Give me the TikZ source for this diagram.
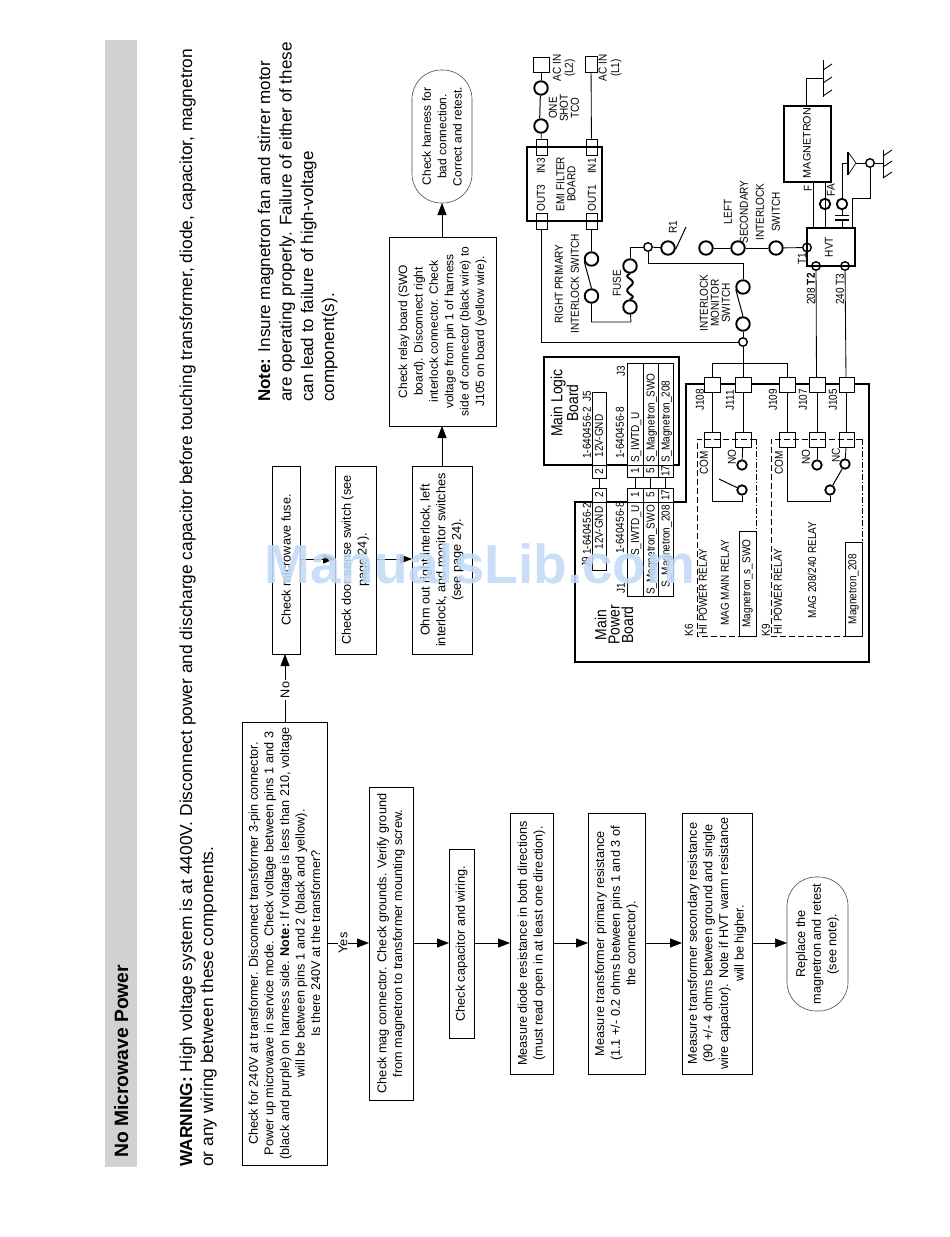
\documentclass[tikz,border=0pt]{standalone}
\usepackage{fontspec}
\setmainfont{Liberation Sans}
\newfontfamily\narrowf[FakeStretch=0.87]{Liberation Sans}
\usetikzlibrary{arrows.meta,calc}
\definecolor{bar}{HTML}{D0D2D2}
\definecolor{wm}{HTML}{C4DAF6}
\newcommand{\flowfont}{\fontsize{12.7}{15.6}\selectfont}
\newcommand{\schfont}[1]{\narrowf\fontsize{#1}{11}\selectfont}
\tikzset{
  flowbox/.style={draw,rotate=90,align=center,inner sep=0pt,line width=0.9pt,font=\flowfont},
  termbox/.style={draw=black!70,rotate=90,align=center,inner sep=0pt,line width=0.6pt,rounded corners=29pt,font=\flowfont},
  flow/.style={line width=0.9pt,-{Triangle[length=12pt,width=9pt]}},
  txt/.style={rotate=90,anchor=base west,inner sep=0pt,align=left},
  term/.style={circle,draw,line width=1.9pt,inner sep=0pt,minimum size=13.5pt},
  tsm/.style={circle,draw,line width=1.4pt,inner sep=0pt,minimum size=8.5pt},
  tmd/.style={circle,draw,line width=1.8pt,inner sep=0pt,minimum size=9.5pt},
  wire/.style={line width=0.85pt},
  cell/.style={draw,line width=0.8pt,rectangle,inner sep=0pt,fill=white},
  lab/.style={rotate=90,inner sep=0pt,align=center,font=\schfont{11.5},line width=0pt},
  labn/.style={rotate=90,inner sep=0pt,align=center},
  thick box/.style={draw,line width=2.8pt},
  sarm/.style={line width=1pt},
  gnd/.style={line width=0.9pt},
}
% name, x1, y1, x2, y2, style, text
\newcommand{\bx}[7]{%
  \pgfmathsetmacro{\cxx}{(#2+#4)/2}\pgfmathsetmacro{\cyy}{(#3+#5)/2}%
  \pgfmathsetmacro{\ww}{#5-#3}\pgfmathsetmacro{\hh}{#4-#2}%
  \node[#6,minimum width=\ww pt,minimum height=\hh pt] (#1) at (\cxx,\cyy) {#7};}
% rectangular connector cell: name, x1,y1,x2,y2, text
\newcommand{\cl}[6]{%
  \pgfmathsetmacro{\cxx}{(#2+#4)/2}\pgfmathsetmacro{\cyy}{(#3+#5)/2}%
  \pgfmathsetmacro{\hh}{#5-#3}\pgfmathsetmacro{\ww}{#4-#2}%
  \node[cell,rotate=90,minimum width=\hh pt,minimum height=\ww pt,font=\schfont{11.5}] (#1) at (\cxx,\cyy) {#6};}
\begin{document}
\begin{tikzpicture}[x=1pt,y=-1pt]
\useasboundingbox (0,0) rectangle (950,1237);
% header
\fill[bar] (105,40) rectangle (137,1167);
\node[txt,font=\fontsize{19.3}{19.3}\selectfont\bfseries] (title) at (128,1158) {No Microwave Power};
\node[txt,font=\fontsize{17.35}{17.35}\selectfont] (warn1) at (192,1167) {\textbf{WARNING:} High voltage system is at 4400V. Disconnect power and discharge capacitor before touching transformer, diode, capacitor, magnetron};
\node[txt,font=\fontsize{17.35}{17.35}\selectfont] (warn2) at (213,1167) {or any wiring between these components.};
\node[txt,font=\fontsize{17}{17}\selectfont] (n1) at (270,402) {\textbf{Note:} Insure magnetron fan and stirrer motor};
\node[txt,font=\fontsize{17}{17}\selectfont] (n2) at (291.5,402) {are operating properly. Failure of either of these};
\node[txt,font=\fontsize{17}{17}\selectfont] (n3) at (313,402) {can lead to failure of high-voltage};
\node[txt,font=\fontsize{17}{17}\selectfont] (n4) at (334,402) {component(s).};
% flow boxes
\bx{main}{242}{722}{327}{1165}{flowbox}{Check for 240V at transformer. Disconnect transformer 3-pin connector.\\Power up microwave in service mode. Check voltage between pins 1 and 3\\(black and purple) on harness side. \textbf{Note:} If voltage is less than 210, voltage\\will be between pins 1 and 2 (black and yellow).\\Is there 240V at the transformer?}
\bx{mag}{369}{787}{413}{1100}{flowbox}{Check mag connector. Check grounds. Verify ground\\from magnetron to transformer mounting screw.}
\bx{cap}{449}{849}{474}{1038}{flowbox}{Check capacitor and wiring.}
\bx{diode}{510}{813}{553}{1074}{flowbox}{Measure diode resistance in both directions\\(must read open in at least one direction).}
\bx{prim}{588}{813}{645}{1074}{flowbox}{Measure transformer primary resistance\\(1.1 +/- 0.2 ohms between pins 1 and 3 of\\the connector).}
\bx{sec}{682}{813}{752}{1074}{flowbox}{Measure transformer secondary resistance\\(90 +/- 4 ohms between ground and single\\wire capacitor). Note if HVT warm resistance\\will be higher.}
\bx{repl}{787}{877}{848}{1011}{termbox}{Replace the\\magnetron and retest\\(see note).}
\bx{fuse}{272}{466}{300}{654}{flowbox}{Check microwave fuse.}
\bx{door}{335}{466}{376}{654}{flowbox}{Check door sense switch (see\\page 24).}
\bx{ohm}{412}{466}{472}{654}{flowbox}{Ohm out right interlock, left\\interlock, and monitor switches\\(see page 24).}
\bx{relay}{389}{237}{496}{426}{flowbox,font=\fontsize{12}{15.4}\selectfont}{Check relay board (SWO\\board). Disconnect right\\interlock connector. Check\\voltage from pin 1 of harness\\side of connector (black wire) to\\J105 on board (yellow wire).}
\bx{harn}{412}{70}{472}{203}{termbox,font=\fontsize{12}{15.4}\selectfont}{Check harness for\\bad connection.\\Correct and retest.}
% flow arrows
\coordinate (yfrom) at (327,943);\coordinate (yto) at (369,943);
\draw[flow] (yfrom) -- node[pos=.38,rotate=90,fill=white,inner sep=1pt,font=\flowfont]{Yes} (yto);
\coordinate (a1) at (413,943);\coordinate (a2) at (449,943);\draw[flow] (a1) -- (a2);
\coordinate (b1) at (474,943);\coordinate (b2) at (510,943);\draw[flow] (b1) -- (b2);
\coordinate (c1) at (553,943);\coordinate (c2) at (588,943);\draw[flow] (c1) -- (c2);
\coordinate (d1) at (645,943);\coordinate (d2) at (682,943);\draw[flow] (d1) -- (d2);
\coordinate (e1) at (752,943);\coordinate (e2) at (787,943);\draw[flow,line width=0.5pt] (e1) -- (e2);
\coordinate (nofrom) at (285,722);\coordinate (noto) at (285,654);
\draw[flow,line width=.5pt] (nofrom) -- node[pos=.47,rotate=90,fill=white,inner sep=1.5pt,font=\flowfont]{No} (noto);
\coordinate (f1) at (300,559);\coordinate (f2) at (335,559);\draw[flow] (f1) -- (f2);
\coordinate (g1) at (376,559);\coordinate (g2) at (412,559);\draw[flow] (g1) -- (g2);
\coordinate (h1) at (442,466);\coordinate (h2) at (442,426);\draw[flow] (h1) -- (h2);
\coordinate (i1) at (442,237);\coordinate (i2) at (442,203);\draw[flow] (i1) -- (i2);
%%%% schematic
\cl{acl2}{533}{57}{549}{72}{}
\cl{acl1}{585}{56}{597}{72}{}
\node[lab] (acl2t) at (564,68) {AC IN\\[1pt](L2)};
\node[lab] (acl1t) at (610,68) {AC IN\\[1.5pt](L1)};
\node[term] (tco1) at (541,88) {};
\node[term] (tco2) at (541,126) {};
\node[lab] (tcot) at (564,108) {ONE\\SHOT\\TCO};
\draw[wire] (acl2) -- (tco1);
\draw[sarm] (tco1.265) -- (tco2.100);
% EMI filter
\cl{in3}{536}{139}{547}{155}{}
\cl{in1}{586}{139}{597}{155}{}
\cl{out3}{536}{213}{547}{229}{}
\cl{out1}{586}{213}{597}{229}{}
\draw[thick box] (527,147) rectangle (602,221);
\node[lab] (in3t) at (541,166) {IN3};
\node[lab] (in1t) at (592,166) {IN1};
\node[lab] (out3t) at (541,198) {OUT3};
\node[lab] (out1t) at (592,198) {OUT1};
\node[lab] (emit) at (566,184) {EMI FILTER\\BOARD};
\draw[wire] (tco2) -- (in3);
\draw[wire] (acl1) -- (in1);
% primary switch, fuse
\node[term] (rp1) at (591.5,259) {};
\node[term] (rp2) at (591.5,296) {};
\draw[wire] (out1) -- (rp1);
\draw[sarm] (rp1.200) -- (rp2.90);
\node[lab] (rpt) at (567,284) {RIGHT PRIMARY\\[5pt]INTERLOCK SWITCH};
\node[term] (fu1) at (630,266) {};
\node[term] (fu2) at (630,307) {};
\draw[line width=1.9pt] (fu1.south) .. controls (620,278) and (640,279) .. (630,286.5) .. controls (620,294) and (640,295) .. (fu2.north);
\node[lab] (fut) at (617,283) {FUSE};
\draw[wire] (rp2) |- (631,322) -- (fu2);
\node[tsm] (jr) at (648,247) {};
\node[term] (r1) at (668,248) {};
\coordinate (r1arm) at (686,227);
\draw[wire] (fu1) |- (jr);
\draw[wire] (jr) -- (r1);
\draw[sarm] (r1.350) -- (r1arm);
\node[lab] (r1t) at (673,227) {R1};
% monitor switch
\node[term] (ms1) at (743,287) {};
\node[term] (ms2) at (743,324) {};
\node[tsm] (jm) at (743,342) {};
\draw[wire] (jr) |- (743,263) -- (ms1);
\draw[sarm] (ms1.200) -- (ms2.90);
\draw[wire] (ms2) -- (jm);
\draw[wire] (out3) |- (jm);
\node[lab] (mst) at (715,303) {INTERLOCK\\MONITOR\\SWITCH};
% secondary
\node[term] (ls0) at (706,248) {};
\node[term] (ls1) at (738,248) {};
\node[term] (ls2) at (776,248) {};
\node[tsm] (t1) at (807,247.5) {};
\draw[wire] (ls0) -- (ls1);
\draw[sarm] (ls1.east) -- (ls2.west);
\draw[wire] (ls2) -- (t1);
\node[lab] (lst) at (752,212) {LEFT\\[5pt]SECONDARY\\[5pt]INTERLOCK\\[5pt]SWITCH};
% HVT
\draw[line width=2.2pt] (807,228) rectangle (855,266);
\node[lab] (hvtt) at (829,247) {HVT};
\node[lab] (t1t) at (802,259) {T1};
\node[tsm] (t2) at (816,266) {};
\node[tsm] (t3) at (845,266) {};
\node[lab] (t2t) at (811,289) {208 \textbf{T2}};
\node[lab] (t3t) at (840,289) {240 T3};
% magnetron
\draw[line width=2.8pt] (784,106) rectangle (831,182);
\node[labn,font=\fontsize{10.8}{11}\selectfont] (magt) at (807,143) {MAGNETRON};
\coordinate (mt) at (806,105);\coordinate (gm) at (823,78);
\draw[wire] (mt) |- (gm);
\draw[gnd] (823,60) -- (823,97);
\foreach \yy in {70,83,96}{\draw[gnd] (823,\yy) -- (832,\yy-6);}
\node[lab] (ft) at (808,188) {F};
\node[lab] (fat) at (831,190) {FA};
\coordinate (fa0) at (825,183);\coordinate (fa1) at (825,228);
\coordinate (f0) at (813,183);\coordinate (f9) at (813,228);
\draw[wire] (f0) -- (f9);
\draw[wire] (fa0) -- (fa1);
\node[tmd,minimum size=10.5pt] (fac) at (825,204) {};
% capacitor, diode, ground
\node[tmd,minimum size=10.5pt] (cc) at (842,204) {};
\coordinate (dl) at (848,163);
\coordinate (cb) at (842,228);
\draw[wire] (dl) -| (cc);
\draw[wire] (cc) -- (842,215);
\draw[line width=1.1pt] (835,215.5) -- (849,215.5);
\draw[line width=1.1pt] (835,220) -- (849,220);
\draw[wire] (842,220) -- (cb);
\draw[line width=1.8pt] (848,152) -- (848,175);
\draw[line width=0.7pt] (848,152) -- (856,163) -- (848,175);
\node[tsm] (jd) at (870,163) {};
\coordinate (gd) at (883,163);
\draw[wire] (856,163) -- (jd) -- (gd);
\draw[gnd] (883,150) -- (883,178);
\foreach \yy in {156,167,178}{\draw[gnd] (883,\yy) -- (892,\yy-6);}
\coordinate (hv) at (852,228);
\draw[wire] (jd) |- (852,198) -- (hv);
% Main logic board
\draw[line width=2.8pt] (544,357) rectangle (679,465);
\node[labn,font=\narrowf\fontsize{16}{13.5}\selectfont,line width=0pt] (mlt) at (564.5,403) {Main Logic\\Board};
\node[lab] (j5t) at (587,396) {J5};
\node[lab] (j5p) at (587,433) {1-640456-2};
\cl{j5b}{592}{392}{606}{465}{}
\node[lab] (j5bt) at (599,436) {12V-GND};
\cl{j5c}{592}{465}{606}{478}{2}
\node[lab] (j3t) at (621,371) {J3};
\node[lab] (j3p) at (620,433) {1-640456-8};
\cl{j3a}{627}{363}{643}{465}{}
\cl{j3b}{643}{363}{658}{465}{}
\cl{j3c}{658}{363}{673}{465}{}
\node[txt,font=\schfont{11.5}] (j3at) at (639,463) {S\_IWTD\_U};
\node[txt,font=\schfont{11.5}] (j3bt) at (654.5,463) {S\_Magnetron\_SWO};
\node[txt,font=\schfont{11.5}] (j3ct) at (669.5,463) {S\_Magnetron\_208};
\cl{j3p1}{627}{465}{643}{477}{1}
\cl{j3p5}{643}{465}{658}{477}{5}
\cl{j3p17}{658}{465}{673}{477}{17}
% Main power board
\draw[line width=2.8pt] (575,502) -- (686,502) -- (686,384) -- (869,384) -- (869,662) -- (575,662) -- cycle;
\node[labn,font=\narrowf\fontsize{16}{13.3}\selectfont] (mpt) at (614,625) {Main\\Power\\Board};
\node[lab] (j9t) at (586,562) {J9};
\node[lab] (j9p) at (587,529) {1-640456-2};
\cl{j9b}{592}{502}{606}{570}{}
\node[lab] (j9bt) at (599,528) {12V-GND};
\cl{j9c}{592}{488}{606}{502}{2}
\node[lab] (j1t) at (621,588) {J1};
\node[lab] (j1p) at (620,528) {1-640456-8};
\cl{j1a}{627}{502}{643}{596}{}
\cl{j1b}{643}{502}{658}{596}{}
\cl{j1c}{658}{502}{673}{596}{}
\node[rotate=90,anchor=base east,inner sep=0pt,font=\schfont{11.5}] (j1at) at (639,505) {S\_IWTD\_U};
\node[rotate=90,anchor=base east,inner sep=0pt,font=\schfont{11.5}] (j1bt) at (654.5,505) {S\_Magnetron\_SWO};
\node[rotate=90,anchor=base east,inner sep=0pt,font=\schfont{11.5}] (j1ct) at (669.5,505) {S\_Magnetron\_208};
\cl{j1p1}{627}{488}{643}{502}{1}
\cl{j1p5}{643}{488}{658}{502}{5}
\cl{j1p17}{658}{488}{673}{502}{17}
\draw[wire] (j5c) -- (j9c);
\draw[wire] (j3p1) -- (j1p1);
\draw[wire] (j3p5) -- (j1p5);
\draw[wire] (j3p17) -- (j1p17);
% Board connectors
\cl{j108}{704}{377}{720}{392}{}
\cl{j111}{735}{377}{751}{392}{}
\cl{j109}{779}{377}{795}{392}{}
\cl{j107}{809}{377}{825}{392}{}
\cl{j105}{839}{377}{854}{392}{}
\node[lab] (j108t) at (700,400) {J108};
\node[lab] (j111t) at (730,400) {J111};
\node[lab] (j109t) at (773,400) {J109};
\node[lab] (j107t) at (803,400) {J107};
\node[lab] (j105t) at (833,400) {J105};
\coordinate (bus) at (743,363);
\draw[wire] (jm) -- (bus);
\draw[wire] (j108) |- (bus);
\draw[wire] (j109) |- (bus);
\draw[wire] (bus) -- (j111);
\draw[wire] (t2) -- (816.5,377);
\draw[wire] (t3) -- (846,377);
% K6
\cl{k6a}{704}{432}{720}{447}{}
\cl{k6b}{735}{432}{751}{447}{}
\cl{k9a}{779}{432}{795}{447}{}
\cl{k9b}{809}{432}{825}{447}{}
\cl{k9c}{839}{432}{854}{447}{}
\draw[wire] (j108) -- (k6a);
\draw[wire] (j111) -- (k6b);
\draw[wire] (j109) -- (k9a);
\draw[wire] (j107) -- (k9b);
\draw[wire] (j105) -- (k9c);
\draw[wire,dash pattern=on 6pt off 3pt] (756,439) -- (697,439) -- (697,636) -- (739,636);
\draw[wire,dash pattern=on 6pt off 2pt on 1.5pt off 2pt] (756,439) -- (756,531);
\draw[wire,dash pattern=on 6pt off 3pt] (862,439) -- (771,439) -- (771,636) -- (845,636);
\draw[wire,dash pattern=on 6pt off 2pt on 1.5pt off 2pt] (862,439) -- (862,542);
\bx{k6l}{739}{531}{756}{636}{cell,rotate=90,font=\schfont{11.5}}{Magnetron\_s\_SWO}
\bx{k9l}{845}{542}{862}{636}{cell,rotate=90,font=\schfont{11.5}}{Magnetron\_208}
\node[lab] (k6t) at (689,630) {K6};
\node[lab] (k9t) at (766,630) {K9};
\node[lab] (hp6) at (703,592) {HI POWER RELAY};
\node[lab] (hp9) at (778,592) {HI POWER RELAY};
\node[lab] (mm) at (725,583) {MAG MAIN RELAY};
\node[lab] (m2) at (812,570) {MAG 208/240 RELAY};
\node[tmd] (k6no) at (742,465) {};
\node[tmd] (k6ar) at (742,490) {};
\coordinate (k6arm) at (719,479);
\coordinate (k6w) at (712,501);
\draw[wire] (k6b) -- (k6no);
\draw[sarm] (k6ar) -- (k6arm);
\draw[wire] (k6a) -- (k6w) -| (k6ar);
\node[lab] (k6c) at (704,463) {COM};
\node[lab] (k6n) at (732,457) {NO};
\node[tmd] (k9no) at (817,465) {};
\node[tmd] (k9nc) at (845,464) {};
\node[tmd] (k9ar) at (830,490) {};
\coordinate (k9w) at (787,501);
\draw[wire] (k9b) -- (k9no);
\draw[wire] (k9c) -- (k9nc);
\draw[sarm] (k9ar) -- (k9nc);
\draw[wire] (k9a) -- (k9w) -| (k9ar);
\node[lab] (k9cm) at (779,463) {COM};
\node[lab] (k9n) at (806,457) {NO};
\node[lab] (k9nct) at (836,455) {NC};
% watermark
\node[anchor=base,inner sep=0pt,text=wm,opacity=.88,text opacity=.88,font=\fontsize{55}{55}\selectfont\bfseries] (wmk) at (480,583) {ManualsLib.com};
\end{tikzpicture}
\end{document}
